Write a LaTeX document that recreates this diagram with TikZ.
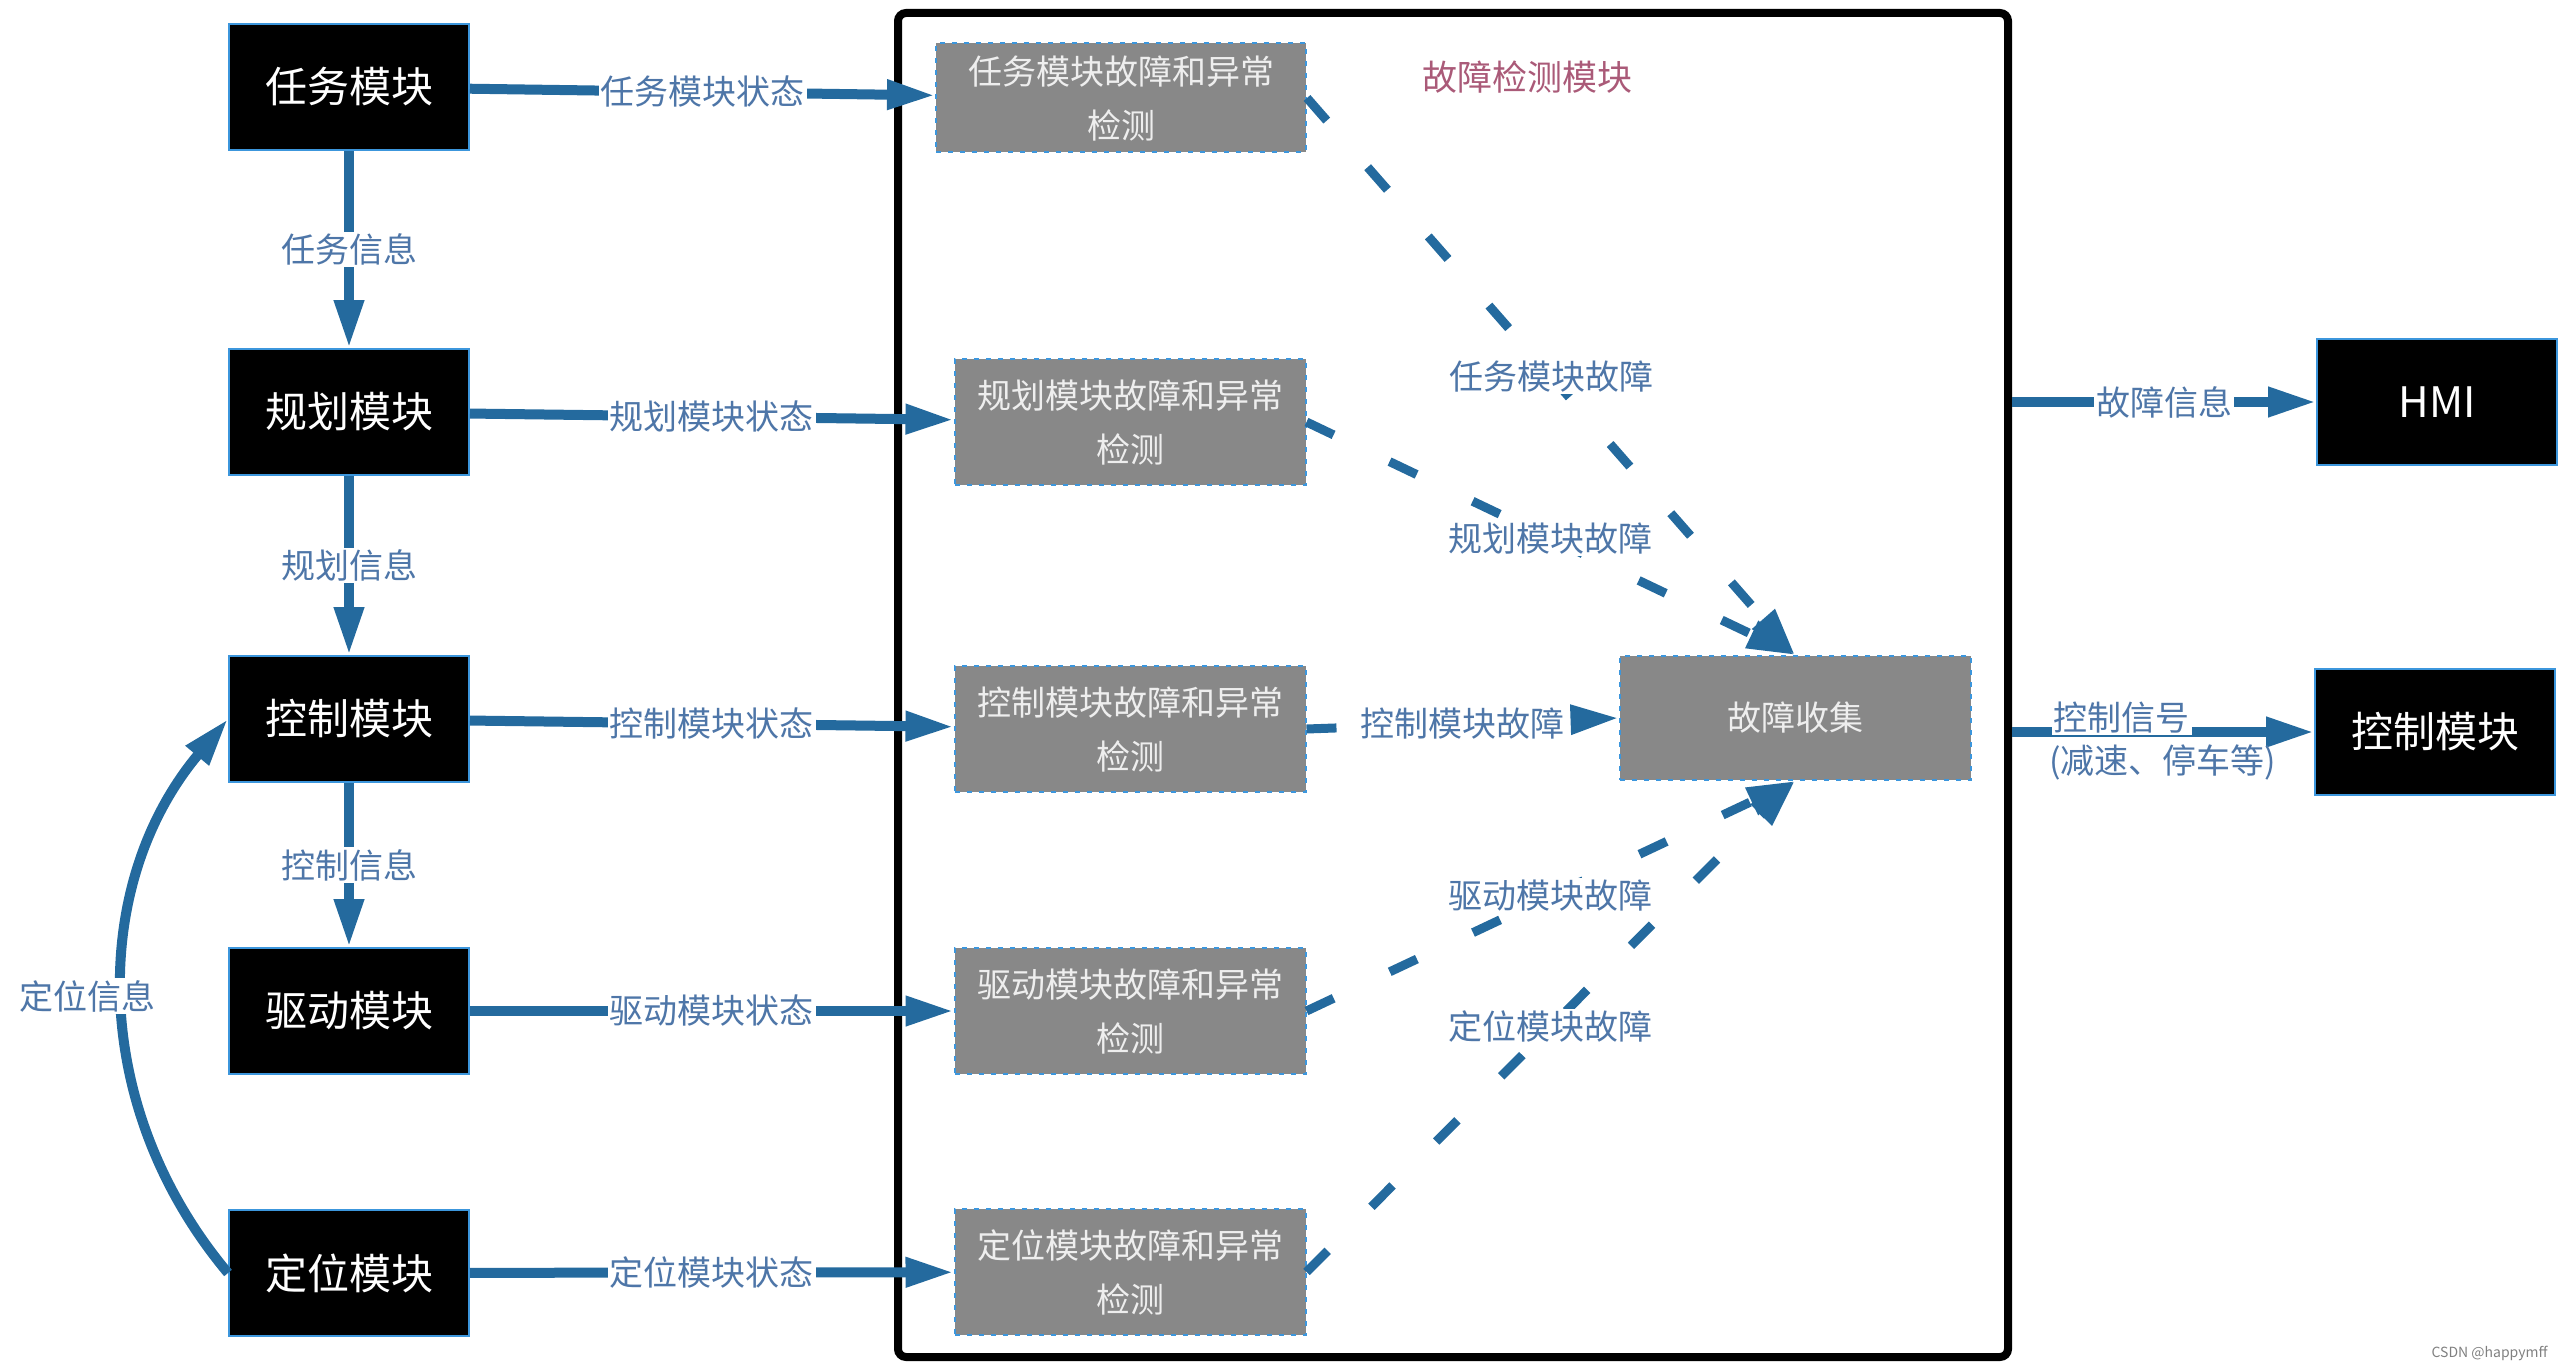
\documentclass[tikz,border=0pt]{standalone}
\usepackage{fontspec}
\setmainfont{Noto Sans CJK SC}
\usetikzlibrary{arrows.meta,positioning,calc}

\definecolor{flowblue}{RGB}{36,106,158}
\definecolor{edgeblue}{RGB}{60,150,220}
\definecolor{lbltext}{RGB}{78,118,168}
\definecolor{titlerose}{RGB}{170,90,120}
\definecolor{detgray}{RGB}{136,136,136}
\definecolor{dettext}{RGB}{238,238,238}

\tikzset{
  modbox/.style={draw=edgeblue, line width=1pt, fill=black, text=white, inner sep=0pt,
    minimum width=120pt, minimum height=63pt, font=\fontsize{21pt}{25pt}\selectfont},
  detbox/.style={draw=edgeblue, line width=1pt, dash pattern=on 2.5pt off 3.5pt, fill=detgray,
    text=dettext, inner sep=0pt, align=center, minimum width=175.5pt, minimum height=63pt,
    font=\fontsize{17pt}{27pt}\selectfont},
  flow/.style={draw=flowblue, line width=5pt, -{Triangle[length=24pt,width=14pt]}},
  faultflow/.style={flow, line width=4.5pt, dash pattern=on 15pt off 31pt},
  lbl/.style={fill=white, text=lbltext, inner sep=1pt, font=\fontsize{17pt}{20pt}\selectfont},
}

\begin{document}
\begin{tikzpicture}[x=0.5pt,y=-0.5pt]
\useasboundingbox (0,0) rectangle (2560,1370); %set diagram to 2560 by 1370

%Shape: Rectangle [frame]
\node[draw=black, line width=4pt, rounded corners=4pt, inner sep=0pt,
  minimum width=555pt, minimum height=672pt] (detframe) at (1453,685) {};
% Text Node
\node[text=titlerose, inner sep=0pt, font=\fontsize{17.5pt}{20pt}\selectfont] (frametitle) at (1527,77) {故障检测模块};

%Shape: Rectangle [left modules]
\node[modbox] (task) at (349,87) {任务模块};
\node[modbox] (plan) at (349,412) {规划模块};
\node[modbox] (ctrl) at (349,719) {控制模块};
\node[modbox] (drive) at (349,1011) {驱动模块};
\node[modbox] (loc) at (349,1273) {定位模块};

%Shape: Rectangle [detection]
\node[detbox, minimum width=185pt, minimum height=54.5pt] (taskdet) at (1121,98) {任务模块故障和异常\\检测};
\node[detbox] (plandet) at (1130,422) {规划模块故障和异常\\检测};
\node[detbox] (ctrldet) at (1130,729) {控制模块故障和异常\\检测};
\node[detbox] (drivedet) at (1130,1011) {驱动模块故障和异常\\检测};
\node[detbox] (locdet) at (1130,1272) {定位模块故障和异常\\检测};
\node[detbox, minimum height=62pt] (collect) at (1795,718) {故障收集};

%Shape: Rectangle [right modules]
\node[modbox] (hmi) at (2437,402) {HMI};
\node[modbox] (ctrlout) at (2435,732) {控制模块};

%Straight Lines [status]
\draw[flow] (task) -- (taskdet) node[lbl, midway] {任务模块状态};
\draw[flow] (plan) -- (plandet) node[lbl, midway] {规划模块状态};
\draw[flow] (ctrl) -- (ctrldet) node[lbl, midway] {控制模块状态};
\draw[flow] (drive) -- (drivedet) node[lbl, midway] {驱动模块状态};
\draw[flow] (loc) -- (locdet) node[lbl, midway] {定位模块状态};

%Straight Lines [chain]
\draw[flow] (task) -- (plan) node[lbl, midway] {任务信息};
\draw[flow] (plan) -- (ctrl) node[lbl, midway] {规划信息};
\draw[flow] (ctrl) -- (drive) node[lbl, midway] {控制信息};

%Curve Lines
\draw[flow] (loc.west) to[bend left=40] node[lbl, midway, xshift=-18pt] {定位信息} (ctrl.west);

%Straight Lines [faults]
\draw[faultflow] (taskdet.east) -- (collect.north) node[lbl, midway] {任务模块故障};
\draw[faultflow] (plandet.east) -- (collect.north) node[lbl, midway] {规划模块故障};
\draw[faultflow] (ctrldet.east) -- (collect.west) node[lbl, midway] {控制模块故障};
\draw[faultflow] (drivedet.east) -- (collect.south) node[lbl, midway] {驱动模块故障};
\draw[faultflow] (locdet.east) -- (collect.south) node[lbl, midway] {定位模块故障};

%Straight Lines [outputs]
\coordinate (hmiout) at (detframe.east |- hmi.west);
\coordinate (sigout) at (detframe.east |- ctrlout.west);
\draw[flow] (hmiout) -- (hmi) node[lbl, midway] {故障信息};
\draw[flow] (sigout) -- (ctrlout) node[lbl, pos=0.115, anchor=south west, yshift=-4pt] (sig) {控制信号};
% Text Node
\node[lbl, fill=none, anchor=north west] (sigdetail) at ([yshift=-1pt]sig.south west) {(减速、停车等)};

% Text Node
\node[text=gray, inner sep=0pt, anchor=east, font=\fontsize{7pt}{8pt}\selectfont] (mark) at (2548,1353) {CSDN @happymff};

\end{tikzpicture}
\end{document}
